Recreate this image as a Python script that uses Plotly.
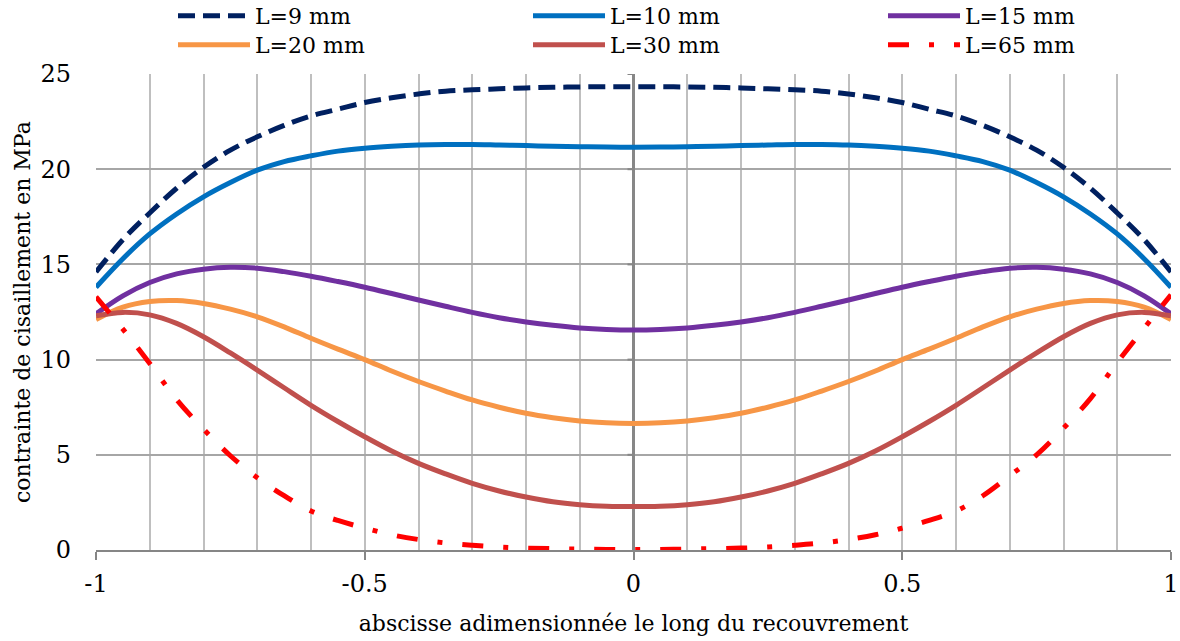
import plotly.graph_objects as go

x_vals = [-1.0, -0.95, -0.9, -0.85, -0.8, -0.75, -0.7, -0.65, -0.6, -0.55, -0.5,
          -0.45, -0.4, -0.35, -0.3, -0.25, -0.2, -0.15, -0.1, -0.05, 0.0,
          0.05, 0.1, 0.15, 0.2, 0.25, 0.3, 0.35, 0.4, 0.45, 0.5,
          0.55, 0.6, 0.65, 0.7, 0.75, 0.8, 0.85, 0.9, 0.95, 1.0]

l9 = [14.6, 16.3, 17.7, 19.0, 20.1, 21.0, 21.7, 22.3, 22.8, 23.15, 23.5,
      23.75, 23.95, 24.1, 24.17, 24.22, 24.27, 24.3, 24.32, 24.33, 24.33,
      24.33, 24.32, 24.3, 24.27, 24.22, 24.17, 24.1, 23.95, 23.75, 23.5,
      23.15, 22.8, 22.3, 21.7, 21.0, 20.1, 19.0, 17.7, 16.3, 14.6]

l10 = [13.8, 15.3, 16.6, 17.65, 18.55, 19.3, 19.95, 20.4, 20.7, 20.95, 21.1,
       21.2, 21.27, 21.3, 21.3, 21.27, 21.24, 21.2, 21.18, 21.16, 21.15,
       21.16, 21.18, 21.2, 21.24, 21.27, 21.3, 21.3, 21.27, 21.2, 21.1,
       20.95, 20.7, 20.4, 19.95, 19.3, 18.55, 17.65, 16.6, 15.3, 13.8]

l15 = [12.4, 13.35, 14.05, 14.5, 14.75, 14.85, 14.8, 14.62, 14.38, 14.1, 13.8,
       13.47, 13.13, 12.8, 12.48, 12.2, 11.98, 11.8, 11.66, 11.58, 11.55,
       11.58, 11.66, 11.8, 11.98, 12.2, 12.48, 12.8, 13.13, 13.47, 13.8,
       14.1, 14.38, 14.62, 14.8, 14.85, 14.75, 14.5, 14.05, 13.35, 12.4]

l20 = [12.1, 12.75, 13.05, 13.1, 12.95, 12.65, 12.25, 11.72, 11.12, 10.55, 10.0,
       9.4, 8.85, 8.35, 7.88, 7.5, 7.18, 6.95, 6.78, 6.68, 6.65,
       6.68, 6.78, 6.95, 7.18, 7.5, 7.88, 8.35, 8.85, 9.4, 10.0,
       10.55, 11.12, 11.72, 12.25, 12.65, 12.95, 13.1, 13.05, 12.75, 12.1]

l30 = [12.3, 12.48, 12.35, 11.9, 11.2, 10.35, 9.45, 8.52, 7.6, 6.75, 5.95,
       5.2, 4.55, 4.0, 3.5, 3.1, 2.78, 2.53, 2.38, 2.3, 2.28,
       2.3, 2.38, 2.53, 2.78, 3.1, 3.5, 4.0, 4.55, 5.2, 5.95,
       6.75, 7.6, 8.52, 9.45, 10.35, 11.2, 11.9, 12.35, 12.48, 12.3]

l65 = [13.3, 11.6, 9.8, 7.9, 6.35, 4.95, 3.8, 2.85, 2.05, 1.55, 1.15,
       0.8, 0.55, 0.37, 0.25, 0.16, 0.1, 0.07, 0.05, 0.03, 0.02,
       0.03, 0.05, 0.07, 0.1, 0.16, 0.25, 0.37, 0.55, 0.8, 1.15,
       1.55, 2.05, 2.85, 3.9, 5.0, 6.4, 7.95, 9.85, 11.65, 13.4]

x_tick_vals = [-1, -0.5, 0, 0.5, 1]
x_tick_text = ["-1", "-0.5", "0", "0.5", "1"]
y_tick_vals = [0, 5, 10, 15, 20, 25]

# (name, values, colour, dash)
series = [
    ("L=9 mm", l9, "#002060", "17px,8px"),
    ("L=10 mm", l10, "#0070C0", "solid"),
    ("L=15 mm", l15, "#7030A0", "solid"),
    ("L=20 mm", l20, "#F79646", "solid"),
    ("L=30 mm", l30, "#C0504D", "solid"),
    ("L=65 mm", l65, "#FF0000", "21px,20px,5px,20px"),
]

FONT = "DejaVu Serif"
W, H = 1180, 641
ML, MR, MT, MB = 96, 9, 74, 91
PW, PH = W - ML - MR, H - MT - MB

# legend grid: 3 columns x 2 rows (figure pixels: left edge, top edge)
legend_cols = [173, 528, 883]
legend_rows = [-5, 24]

fig = go.Figure()
layout_legends = {}
for i, (name, ys, color, dash) in enumerate(series):
    key = "legend" if i == 0 else f"legend{i + 1}"
    fig.add_trace(go.Scatter(
        x=x_vals, y=ys, name=name, mode="lines", legend=key,
        line=dict(color=color, width=5, dash=dash, shape="spline", smoothing=1.0),
    ))
    col, row = i % 3, i // 3
    layout_legends[key] = dict(
        orientation="v", xref="container", yref="paper",
        xanchor="left", yanchor="top",
        x=legend_cols[col] / W, y=1 + (MT - legend_rows[row]) / PH,
        itemwidth=72, font=dict(family=FONT, size=22, color="black"),
        bgcolor="rgba(0,0,0,0)", borderwidth=0,
    )

# small tick marks on the central (x=0) vertical axis line, pointing left
shapes = [
    dict(type="line", xref="x", yref="y", xsizemode="pixel", xanchor=0,
         x0=-6, x1=0, y0=v, y1=v, line=dict(color="#878787", width=2), layer="above")
    for v in y_tick_vals[1:]
]

fig.update_layout(
    width=W, height=H,
    margin=dict(l=ML, r=MR, t=MT, b=MB, autoexpand=False),
    paper_bgcolor="white", plot_bgcolor="white",
    font=dict(family=FONT, size=22, color="black"),
    showlegend=True,
    shapes=shapes,
    annotations=[dict(
        text="contrainte de cisaillement en MPa", textangle=-90,
        xref="paper", yref="paper", x=(22 - ML) / PW, y=0.5,
        xanchor="center", yanchor="middle", showarrow=False,
        font=dict(family=FONT, size=22, color="black"),
    )],
    xaxis=dict(
        range=[-1, 1], tickvals=x_tick_vals, ticktext=x_tick_text,
        ticks="outside", ticklen=8, tickwidth=2, tickcolor="#868686",
        tickfont=dict(family=FONT, size=24),
        showline=True, linecolor="#868686", linewidth=2,
        showgrid=True, gridcolor="#BFBFBF", gridwidth=1.5,
        minor=dict(dtick=0.1, showgrid=True, gridcolor="#BFBFBF", gridwidth=1.5, ticks=""),
        zeroline=True, zerolinecolor="#878787", zerolinewidth=3,
        title=dict(text="abscisse adimensionnée le long du recouvrement", standoff=19,
                   font=dict(family=FONT, size=22)),
        ticklabelstandoff=3,
    ),
    yaxis=dict(
        range=[0, 25], tickvals=y_tick_vals,
        showgrid=True, gridcolor="#A6A6A6", gridwidth=1.5,
        showline=False, ticks="", zeroline=False,
        tickfont=dict(family=FONT, size=24),
        ticklabelstandoff=24,
    ),
    **layout_legends,
)

# remove the default 8px page margin so the figure fills the window exactly
fig.write_html("out.html", config={"displayModeBar": False},
               post_script="document.body.style.margin='0px';")
